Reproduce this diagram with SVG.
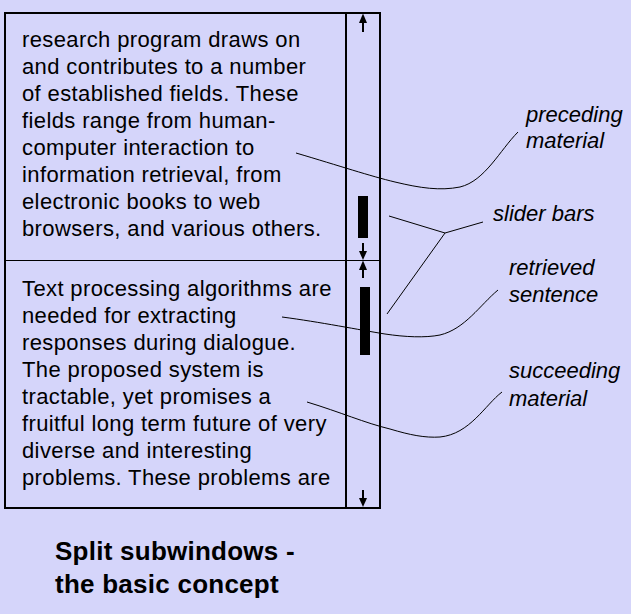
<svg xmlns="http://www.w3.org/2000/svg" width="631" height="614" viewBox="0 0 631 614">
<style>
.body{font-family:"Liberation Sans",Arial,sans-serif;font-size:22px;letter-spacing:0.38px;fill:#000}
.lbl{font-family:"Liberation Sans",Arial,sans-serif;font-size:22px;font-style:italic;fill:#000}
.title{font-family:"Liberation Sans",Arial,sans-serif;font-size:26px;font-weight:bold;letter-spacing:0.25px;fill:#000}
.frame{fill:none;stroke:#000;stroke-width:2}
.thin{fill:none;stroke:#000;stroke-width:1}
.arr{fill:#000}
</style>
<rect width="631" height="614" fill="#d5d5fa"/>
<g id="window">
<rect class="frame" x="5" y="13" width="375" height="495"/>
<line class="frame" x1="346" y1="13" x2="346" y2="508"/>
<line class="thin" x1="5" y1="260.5" x2="380" y2="260.5"/>
</g>
<g id="top-pane">
<text class="body"><tspan x="22" y="47">research program draws on</tspan><tspan x="22" y="74">and contributes to a number</tspan><tspan x="22" y="101">of established fields. These</tspan><tspan x="22" y="128">fields range from human-</tspan><tspan x="22" y="155">computer interaction to</tspan><tspan x="22" y="182">information retrieval, from</tspan><tspan x="22" y="209">electronic books to web</tspan><tspan x="22" y="236">browsers, and various others.</tspan></text>
</g>
<g id="bottom-pane">
<text class="body"><tspan x="22" y="296">Text processing algorithms are</tspan><tspan x="22" y="323">needed for extracting</tspan><tspan x="22" y="350">responses during dialogue.</tspan><tspan x="22" y="377">The proposed system is</tspan><tspan x="22" y="404">tractable, yet promises  a</tspan><tspan x="22" y="431">fruitful long term future of very</tspan><tspan x="22" y="458">diverse and interesting</tspan><tspan x="22" y="485">problems. These problems are</tspan></text>
</g>
<g id="scrollbar">
<rect class="arr" x="362" y="22" width="2" height="10"/>
<polygon class="arr" points="363,13.5 359,23 367,23"/>
<rect class="arr" x="358" y="196" width="10" height="42"/>
<rect class="arr" x="362" y="243" width="2" height="9"/>
<polygon class="arr" points="363,260 359,251 367,251"/>
<rect class="arr" x="362" y="269" width="2" height="9"/>
<polygon class="arr" points="363,260.5 359,270 367,270"/>
<rect class="arr" x="360" y="287" width="10" height="68"/>
<rect class="arr" x="362" y="490" width="2" height="9"/>
<polygon class="arr" points="363,507 359,498 367,498"/>
</g>
<g id="connectors">
<path class="thin" d="M296,153 C340,166 370,176 395,182 C420,188 440,191 460,187 C485,181 500,150 518,132"/>
<path class="thin" d="M389,216 L445,233 L483,222 M445,233 L387,314"/>
<path class="thin" d="M282,317 C320,322 360,330 385,334 C405,337 425,338 440,335 C465,329 480,305 498,290"/>
<path class="thin" d="M307,402 C340,412 365,423 390,429 C410,435 425,438 440,437 C470,434 485,405 502,392"/>
</g>
<g id="label-preceding"><text class="lbl"><tspan x="526" y="122">preceding</tspan><tspan x="526" y="148">material</tspan></text></g>
<g id="label-slider"><text class="lbl" x="493" y="221">slider bars</text></g>
<g id="label-retrieved"><text class="lbl"><tspan x="509" y="275">retrieved</tspan><tspan x="509" y="302">sentence</tspan></text></g>
<g id="label-succeeding"><text class="lbl"><tspan x="509" y="378">succeeding</tspan><tspan x="509" y="406">material</tspan></text></g>
<g id="title"><text class="title"><tspan x="55" y="560">Split subwindows -</tspan><tspan x="55" y="593">the basic concept</tspan></text></g>
</svg>
